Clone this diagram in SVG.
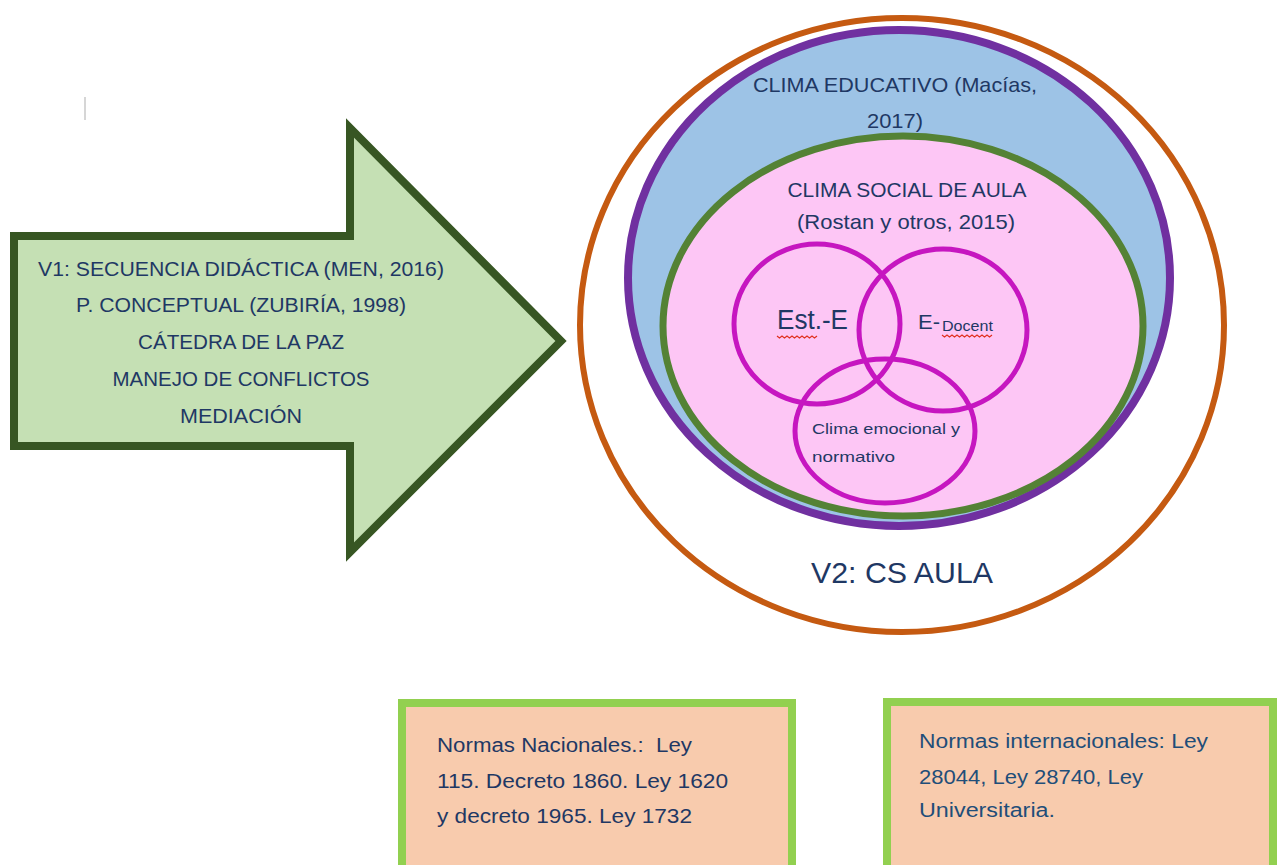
<svg xmlns="http://www.w3.org/2000/svg" width="1277" height="865" viewBox="0 0 1277 865">
<style>
  text { font-family: "Liberation Sans", Arial, sans-serif; fill: #1F3864; }
  .mid { text-anchor: middle; }
  .arrowtxt { font-size: 20px; }
  .venn { fill: none; stroke: #C616C0; stroke-width: 5; }
  .squig { fill: none; stroke: #E0301E; stroke-width: 1.2; }
  .box { fill: #F8CBAD; stroke: #92D050; stroke-width: 8; }
  .boxtxt { font-size: 20px; }
</style>
<rect width="1277" height="865" fill="#FFFFFF"/>
<line x1="85" y1="97" x2="85" y2="120" stroke="#C8C8C8" stroke-width="1.5"/>

<g id="v1-arrow">
  <polygon points="14,236 350,236 350,128 561,341 350,552 350,446 14,446" fill="#C5E0B4" stroke="#375623" stroke-width="8" stroke-linejoin="miter"/>
  <text class="mid arrowtxt" x="241" y="276" textLength="406" lengthAdjust="spacingAndGlyphs">V1: SECUENCIA DIDÁCTICA (MEN, 2016)</text>
  <text class="mid arrowtxt" x="241" y="312" textLength="330" lengthAdjust="spacingAndGlyphs">P. CONCEPTUAL (ZUBIRÍA, 1998)</text>
  <text class="mid arrowtxt" x="241" y="349" textLength="206" lengthAdjust="spacingAndGlyphs">CÁTEDRA DE LA PAZ</text>
  <text class="mid arrowtxt" x="241" y="386" textLength="257" lengthAdjust="spacingAndGlyphs">MANEJO DE CONFLICTOS</text>
  <text class="mid arrowtxt" x="241" y="423" textLength="122" lengthAdjust="spacingAndGlyphs">MEDIACIÓN</text>
</g>

<g id="v2-cs-aula">
  <ellipse cx="902" cy="325" rx="322" ry="307" fill="#FFFFFF" stroke="#C55A11" stroke-width="6"/>
  <text class="mid" x="902" y="583" font-size="30" textLength="182" lengthAdjust="spacingAndGlyphs">V2: CS AULA</text>
</g>

<g id="clima-educativo">
  <ellipse cx="899" cy="278" rx="271" ry="248" fill="#9DC3E6" stroke="#7030A0" stroke-width="8"/>
  <text class="mid" x="895" y="92" font-size="21" textLength="284" lengthAdjust="spacingAndGlyphs">CLIMA EDUCATIVO (Macías,</text>
  <text class="mid" x="895" y="128" font-size="21" textLength="56" lengthAdjust="spacingAndGlyphs">2017)</text>
</g>

<g id="clima-social">
  <ellipse cx="903" cy="326" rx="240" ry="190" fill="#FDC6F5" stroke="#548235" stroke-width="7"/>
  <text class="mid" x="907" y="197" font-size="21" textLength="239" lengthAdjust="spacingAndGlyphs">CLIMA SOCIAL DE AULA</text>
  <text class="mid" x="906" y="229" font-size="21" textLength="218" lengthAdjust="spacingAndGlyphs">(Rostan y otros, 2015)</text>
</g>

<g id="venn-est-e">
  <ellipse class="venn" cx="817" cy="324" rx="83" ry="80"/>
  <text x="777" y="329" font-size="27" textLength="71" lengthAdjust="spacingAndGlyphs">Est.-E</text>
  <path class="squig" d="M777,336 l2.5,2 l2.5,-2 l2.5,2 l2.5,-2 l2.5,2 l2.5,-2 l2.5,2 l2.5,-2 l2.5,2 l2.5,-2 l2.5,2 l2.5,-2 l2.5,2 l2.5,-2 l2.5,2 l2.5,-2"/>
</g>

<g id="venn-e-docent">
  <ellipse class="venn" cx="943" cy="330" rx="84" ry="81"/>
  <text x="918" y="329" font-size="21" textLength="22" lengthAdjust="spacingAndGlyphs">E-</text>
  <text x="942" y="331" font-size="14" textLength="51" lengthAdjust="spacingAndGlyphs">Docent</text>
  <path class="squig" d="M942,335 l2.5,2 l2.5,-2 l2.5,2 l2.5,-2 l2.5,2 l2.5,-2 l2.5,2 l2.5,-2 l2.5,2 l2.5,-2 l2.5,2 l2.5,-2 l2.5,2 l2.5,-2 l2.5,2 l2.5,-2 l2.5,2 l2.5,-2 l2.5,2 l2.5,-2"/>
</g>

<g id="venn-clima-emocional">
  <ellipse class="venn" cx="885" cy="431" rx="90" ry="72"/>
  <text x="812" y="434" font-size="15" textLength="148" lengthAdjust="spacingAndGlyphs">Clima emocional y</text>
  <text x="812" y="462" font-size="15" textLength="83" lengthAdjust="spacingAndGlyphs">normativo</text>
</g>

<g id="normas-nacionales">
  <rect class="box" x="402" y="703" width="390" height="170"/>
  <text class="boxtxt" x="437" y="752" textLength="255" lengthAdjust="spacingAndGlyphs">Normas Nacionales.:&#160; Ley</text>
  <text class="boxtxt" x="437" y="788" textLength="291" lengthAdjust="spacingAndGlyphs">115. Decreto 1860. Ley 1620</text>
  <text class="boxtxt" x="437" y="823" textLength="255" lengthAdjust="spacingAndGlyphs">y decreto 1965. Ley 1732</text>
</g>

<g id="normas-internacionales">
  <rect class="box" x="887" y="702" width="386" height="170"/>
  <text class="boxtxt" x="919" y="748" textLength="289" lengthAdjust="spacingAndGlyphs" style="fill:#1F4E79">Normas internacionales: Ley</text>
  <text class="boxtxt" x="919" y="784" textLength="224" lengthAdjust="spacingAndGlyphs" style="fill:#1F4E79">28044, Ley 28740, Ley</text>
  <text class="boxtxt" x="919" y="817" textLength="136" lengthAdjust="spacingAndGlyphs" style="fill:#1F4E79">Universitaria.</text>
</g>

<g id="connectors"></g>
</svg>
